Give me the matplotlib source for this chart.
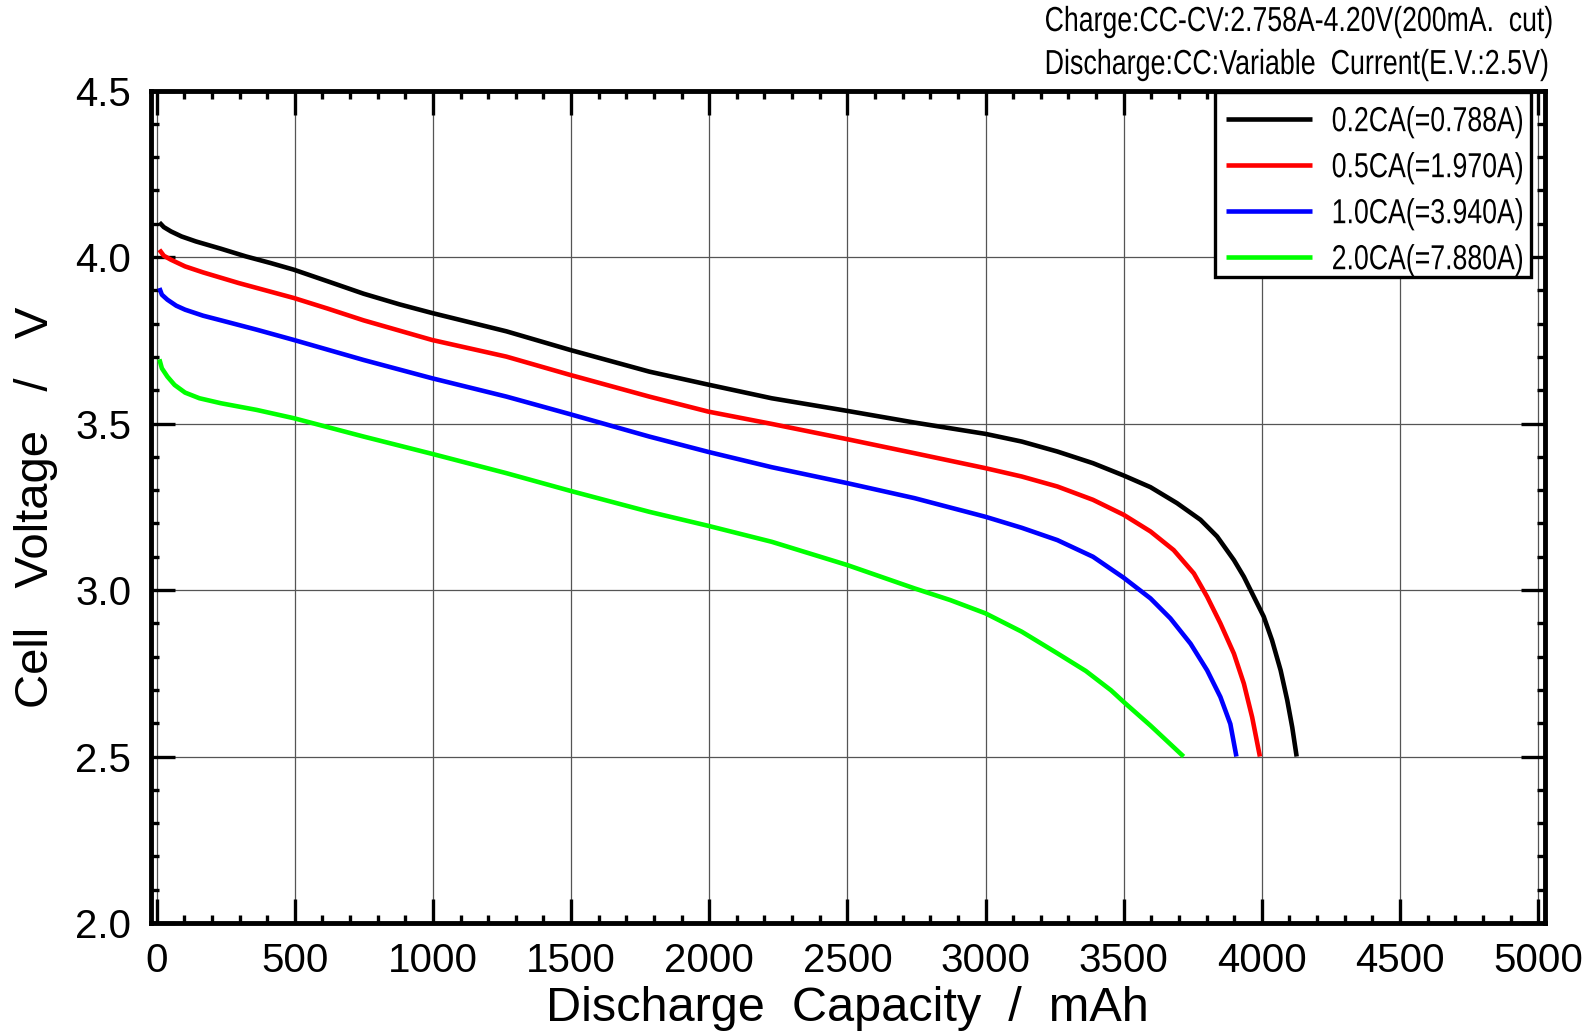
import matplotlib
matplotlib.use("Agg")
import matplotlib.pyplot as plt
from matplotlib.ticker import MultipleLocator
from matplotlib.patheffects import AbstractPathEffect
from matplotlib.transforms import Affine2D
from matplotlib.patches import Rectangle
from matplotlib import font_manager

# ---------------- data ----------------
labels = ["0.2CA(=0.788A)", "0.5CA(=1.970A)", "1.0CA(=3.940A)", "2.0CA(=7.880A)"]
colors = ["#000000", "#ff0000", "#0000ff", "#00ff00"]

cap_02 = [10, 26, 52, 90, 142, 233, 323, 413, 497, 620, 749, 879, 997, 1266, 1497, 1783,
          1996, 2226, 2500, 2743, 3000, 3131, 3260, 3389, 3500, 3597, 3693, 3778, 3838,
          3899, 3935, 3971, 4007, 4037, 4068, 4092, 4110, 4126]
volt_02 = [4.104, 4.090, 4.077, 4.062, 4.047, 4.025, 4.002, 3.982, 3.962, 3.927, 3.890,
           3.858, 3.832, 3.777, 3.721, 3.656, 3.617, 3.576, 3.538, 3.503, 3.469, 3.446,
           3.416, 3.381, 3.344, 3.309, 3.261, 3.211, 3.161, 3.090, 3.040, 2.980, 2.920,
           2.849, 2.759, 2.669, 2.588, 2.500]

cap_05 = [10, 26, 52, 103, 168, 297, 497, 620, 749, 997, 1266, 1497, 1783, 1996, 2226,
          2500, 2743, 3000, 3131, 3260, 3389, 3500, 3597, 3681, 3754, 3802, 3850, 3899,
          3935, 3965, 3993]
volt_05 = [4.022, 4.004, 3.992, 3.972, 3.954, 3.922, 3.877, 3.845, 3.810, 3.751, 3.701,
           3.646, 3.581, 3.536, 3.499, 3.453, 3.411, 3.366, 3.341, 3.311, 3.271, 3.226,
           3.176, 3.120, 3.050, 2.980, 2.900, 2.809, 2.719, 2.618, 2.500]

cap_10 = [10, 19, 39, 71, 103, 168, 233, 362, 497, 749, 997, 1266, 1497, 1783, 1996, 2226,
          2500, 2743, 3000, 3131, 3260, 3389, 3500, 3597, 3669, 3742, 3802, 3850, 3886, 3908]
volt_10 = [3.907, 3.887, 3.872, 3.854, 3.842, 3.824, 3.810, 3.782, 3.751, 3.691, 3.636,
           3.581, 3.528, 3.461, 3.415, 3.369, 3.321, 3.276, 3.220, 3.187, 3.150, 3.100,
           3.037, 2.975, 2.915, 2.839, 2.759, 2.679, 2.598, 2.500]

cap_20 = [10, 19, 39, 65, 103, 155, 233, 362, 497, 749, 997, 1266, 1497, 1783, 1996, 2226,
          2500, 2743, 2872, 3000, 3131, 3260, 3363, 3454, 3500, 3597, 3717]
volt_20 = [3.693, 3.666, 3.641, 3.616, 3.593, 3.576, 3.561, 3.541, 3.516, 3.461, 3.409,
           3.351, 3.298, 3.235, 3.193, 3.145, 3.075, 3.005, 2.970, 2.930, 2.875, 2.810,
           2.757, 2.699, 2.664, 2.593, 2.500]

caps = [cap_02, cap_05, cap_10, cap_20]
volts = [volt_02, volt_05, volt_10, volt_20]

x_ticks = [0, 500, 1000, 1500, 2000, 2500, 3000, 3500, 4000, 4500, 5000]
y_ticks = [2.0, 2.5, 3.0, 3.5, 4.0, 4.5]

note_1 = "Charge:CC-CV:2.758A-4.20V(200mA.  cut)"
note_2 = "Discharge:CC:Variable  Current(E.V.:2.5V)"
x_label = "Discharge  Capacity  /  mAh"
y_label = "Cell   Voltage   /   V"

# ---------------- fonts ----------------
avail = {f.name for f in font_manager.fontManager.ttflist}
main_font = "Liberation Sans" if "Liberation Sans" in avail else "DejaVu Sans"
plt.rcParams["font.family"] = [main_font, "DejaVu Sans"]


class Condense(AbstractPathEffect):
    """Squeeze text horizontally around its left or right edge."""

    def __init__(self, sx=0.8, anchor="left"):
        super().__init__()
        self.sx = sx
        self.anchor = anchor

    def draw_path(self, renderer, gc, tpath, affine, rgbFace=None):
        verts = affine.transform(tpath.vertices)
        if len(verts) == 0:
            renderer.draw_path(gc, tpath, affine, rgbFace)
            return
        x0 = verts[:, 0].min() if self.anchor == "left" else verts[:, 0].max()
        squeeze = Affine2D().translate(-x0, 0).scale(self.sx, 1.0).translate(x0, 0)
        renderer.draw_path(gc, tpath, affine + squeeze, rgbFace)


# ---------------- figure ----------------
fig = plt.figure(figsize=(15.93, 10.34), dpi=100)
ax = fig.add_axes([0.0945, 0.1073, 0.8754, 0.8051])

for c, v, lab, col in zip(caps, volts, labels, colors):
    ax.plot(c, v, color=col, lw=3.3, label=lab, solid_capstyle="butt",
            solid_joinstyle="round", zorder=3)

ax.set_xlim(-22, 5025)
ax.set_ylim(2.0, 4.5)
ax.set_xticks(x_ticks)
ax.set_yticks(y_ticks)
ax.set_yticklabels([f"{t:.1f}" for t in y_ticks])
ax.xaxis.set_minor_locator(MultipleLocator(100))
ax.yaxis.set_minor_locator(MultipleLocator(0.1))

ax.grid(True, which="major", color="#555555", lw=0.9, zorder=1)
for s in ax.spines.values():
    s.set_linewidth(3.5)

ax.tick_params(which="both", direction="in", top=True, right=True, width=2.4)
ax.tick_params(which="major", length=17)
ax.tick_params(which="minor", length=6)
ax.tick_params(axis="x", which="major", labelsize=29, pad=14)
ax.tick_params(axis="y", which="major", labelsize=29, pad=14)

ax.set_xlabel(x_label, fontsize=35, labelpad=4)
ax.set_ylabel(y_label, fontsize=34, labelpad=12)

# legend: entries from the legend, frame drawn to the reference box size
leg = ax.legend(loc="upper left", bbox_to_anchor=(0.7636, 0.995), borderaxespad=0,
                frameon=False, prop={"family": main_font, "size": 25},
                handlelength=2.48, handletextpad=0.57, labelspacing=0.375,
                borderpad=0.3)
leg.set_zorder(6)
for h in leg.get_lines():
    h.set_linewidth(3.3)

ax.add_patch(Rectangle((0.7634, 0.7760), 0.9900 - 0.7634, 0.9982 - 0.7760,
                       transform=ax.transAxes, facecolor="white", edgecolor="black",
                       lw=2.4, zorder=5, clip_on=False))

t1 = fig.text(1553 / 1593, 1 - 31 / 1034, note_1, ha="right", va="baseline",
              family=main_font, fontsize=25)
t2 = fig.text(1549 / 1593, 1 - 74 / 1034, note_2, ha="right", va="baseline",
              family=main_font, fontsize=25)

# squeeze factors so the condensed texts reach the reference widths (px)
fig.canvas.draw()
rend = fig.canvas.get_renderer()
for t, target in ((t1, 508), (t2, 504)):
    w = t.get_window_extent(rend).width
    t.set_path_effects([Condense(target / w, "right")])
leg_w = leg.get_texts()[0].get_window_extent(rend).width
for t in leg.get_texts():
    t.set_path_effects([Condense(192 / leg_w, "left")])

fig.savefig("out.png", dpi=100)
